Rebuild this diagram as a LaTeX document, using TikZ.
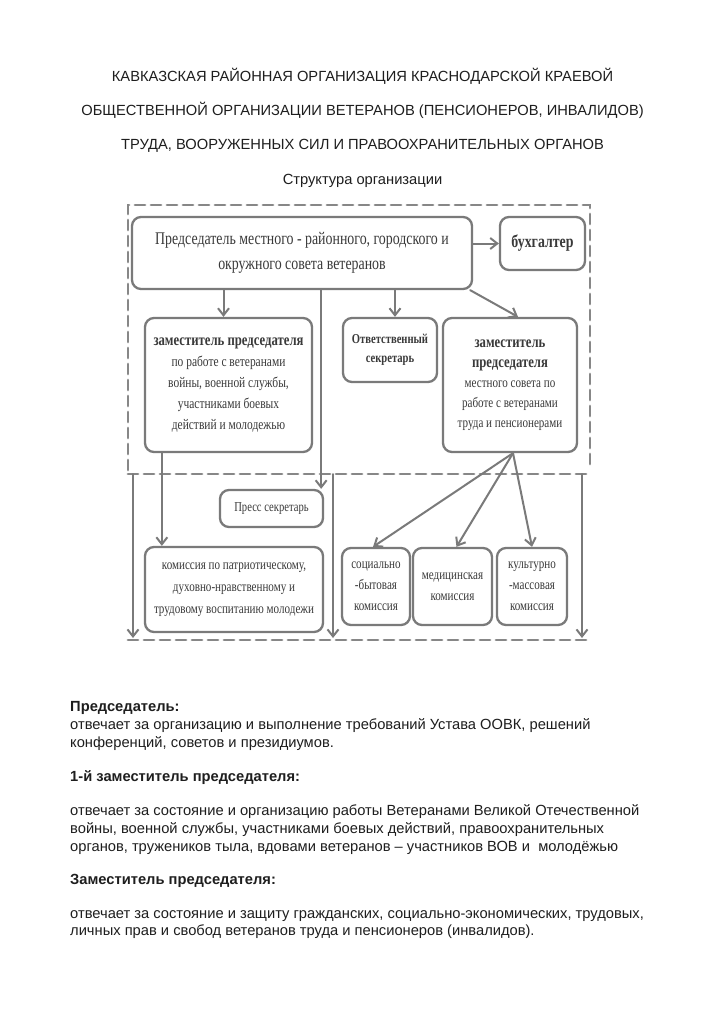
\documentclass[tikz,border=0pt]{standalone}
\usepackage{fontspec}
\setmainfont{Liberation Sans}
\newfontfamily\boxfont[FakeStretch=0.78]{Liberation Serif}
\usetikzlibrary{arrows.meta}
\definecolor{linegray}{HTML}{7A7A7A}
\definecolor{boxtext}{HTML}{3A3A3A}
\definecolor{dashgray}{HTML}{878787}
\definecolor{inktext}{HTML}{1E1E1E}
\tikzset{
  orgbox/.style={draw=linegray,line width=2.3pt,rounded corners=9pt,inner sep=0pt,text=boxtext,align=center,font=\boxfont},
  orgarrow/.style={draw=linegray,line width=2pt,-{Straight Barb[length=7pt,width=11pt]}},
  frameline/.style={draw=dashgray,line width=2.8pt,dash pattern=on 10pt off 6pt},
  headline/.style={font=\fontsize{14.7}{17}\selectfont,text=inktext,inner sep=0pt,anchor=base},
  noteline/.style={font=\fontsize{14.7}{17}\selectfont,text=inktext,inner sep=0pt,anchor=base west},
}
\begin{document}
\begin{tikzpicture}[x=1pt,y=-1pt,line cap=round]
	\fill[white] (0,0) rectangle (725,1024);
	\useasboundingbox (0,0) rectangle (725,1024);
	% title
	\node[headline] (h1) at (362.5,82) {КАВКАЗСКАЯ РАЙОННАЯ ОРГАНИЗАЦИЯ КРАСНОДАРСКОЙ КРАЕВОЙ};
	\node[headline] (h2) at (362.5,116) {ОБЩЕСТВЕННОЙ ОРГАНИЗАЦИИ ВЕТЕРАНОВ (ПЕНСИОНЕРОВ, ИНВАЛИДОВ)};
	\node[headline] (h3) at (362.5,150) {ТРУДА, ВООРУЖЕННЫХ СИЛ И ПРАВООХРАНИТЕЛЬНЫХ ОРГАНОВ};
	\node[headline] (h4) at (362.5,185) {Структура организации};
	% dashed frames
	\draw[frameline] (128,470) -- (128,205) -- (590,205) -- (590,470);
	\draw[frameline] (128,474) -- (590,474);
	\draw[frameline] (128,640) -- (590,640);
	% boxes
	\node[orgbox,minimum width=340,minimum height=72,font=\boxfont\fontsize{17.8}{25}\selectfont] (chair) at (302,253)
		{Председатель местного - районного, городского и\\окружного совета ветеранов};
	\node[orgbox,minimum width=85,minimum height=53,font=\boxfont\fontsize{17.8}{20}\selectfont\bfseries] (buh) at (542.5,243.5) {бухгалтер};
	\node[orgbox,minimum width=167,minimum height=134,font=\boxfont\fontsize{14.7}{21}\selectfont] (zam1) at (228.5,385)
		{{\bfseries\fontsize{16.3}{21}\selectfont заместитель председателя}\\по работе с ветеранами\\войны, военной службы,\\участниками боевых\\действий и молодежью};
	\node[orgbox,minimum width=94,minimum height=64,font=\boxfont\fontsize{13.6}{19}\selectfont\bfseries] (otv) at (390,350)
		{Ответственный\\секретарь};
	\node[orgbox,minimum width=134,minimum height=134,font=\boxfont\fontsize{14.2}{20}\selectfont] (zam2) at (510,385)
		{{\bfseries\fontsize{16.3}{20}\selectfont заместитель}\\{\bfseries\fontsize{16.3}{20}\selectfont председателя}\\местного совета по\\работе с ветеранами\\труда и пенсионерами};
	\node[orgbox,minimum width=103,minimum height=37,font=\boxfont\fontsize{13.6}{18}\selectfont] (press) at (271.5,508.5) {Пресс секретарь};
	\node[orgbox,minimum width=178,minimum height=85,font=\boxfont\fontsize{14.2}{22}\selectfont] (comm) at (234,589.5)
		{комиссия по патриотическому,\\духовно-нравственному и\\трудовому воспитанию молодежи};
	\node[orgbox,minimum width=68,minimum height=77,font=\boxfont\fontsize{14.2}{21}\selectfont] (soc) at (376,586.5)
		{социально\\-бытовая\\комиссия};
	\node[orgbox,minimum width=79,minimum height=77,font=\boxfont\fontsize{14.2}{21}\selectfont] (med) at (452.5,586.5)
		{медицинская\\комиссия};
	\node[orgbox,minimum width=70,minimum height=77,font=\boxfont\fontsize{14.2}{21}\selectfont] (cult) at (532,586.5)
		{культурно\\-массовая\\комиссия};
	% free ends of the side arrows
	\coordinate (lt) at (133,474);
	\coordinate (lb) at (133,638);
	\coordinate (mt) at (333,474);
	\coordinate (mb) at (333,638);
	\coordinate (rt) at (582,474);
	\coordinate (rb) at (582,638);
	% connectors
	\draw[orgarrow] (chair.east |- buh.west) -- (buh.west);
	\draw[orgarrow] ([xshift=-5]zam1.north |- chair.south) -- ([xshift=-5]zam1.north);
	\draw[orgarrow] ([xshift=5]otv.north |- chair.south) -- ([xshift=5]otv.north);
	\draw[orgarrow] ([xshift=-3]chair.south east) -- ([xshift=8]zam2.north);
	\draw[orgarrow] ([xshift=-3]press.north east |- chair.south) -- ([xshift=-3]press.north east);
	\draw[orgarrow] ([xshift=18]zam1.south west) -- ([xshift=18]zam1.south west |- comm.north);
	\draw[orgarrow] ([xshift=3]zam2.south) -- ([xshift=-3]soc.north);
	\draw[orgarrow] ([xshift=3]zam2.south) -- ([xshift=4]med.north);
	\draw[orgarrow] ([xshift=3]zam2.south) -- (cult.north);
	\draw[orgarrow] (lt) -- (lb);
	\draw[orgarrow] (mt) -- (mb);
	\draw[orgarrow] (rt) -- (rb);
	% notes below
	\node[noteline] (n1) at (70,711) {\bfseries Председатель:};
	\node[noteline] (n2) at (70,729) {отвечает за организацию и выполнение требований Устава ООВК, решений};
	\node[noteline] (n3) at (70,747) {конференций, советов и президиумов.};
	\node[noteline] (n4) at (70,781) {\bfseries 1-й заместитель председателя:};
	\node[noteline] (n5) at (70,815) {отвечает за состояние и организацию работы Ветеранами Великой Отечественной};
	\node[noteline] (n6) at (70,833) {войны, военной службы, участниками боевых действий, правоохранительных};
	\node[noteline] (n7) at (70,851) {органов, тружеников тыла, вдовами ветеранов – участников ВОВ и\ \ молодёжью};
	\node[noteline] (n8) at (70,884) {\bfseries Заместитель председателя:};
	\node[noteline] (n9) at (70,918) {отвечает за состояние и защиту гражданских, социально-экономических, трудовых,};
	\node[noteline] (n10) at (70,935) {личных прав и свобод ветеранов труда и пенсионеров (инвалидов).};
\end{tikzpicture}
\end{document}
